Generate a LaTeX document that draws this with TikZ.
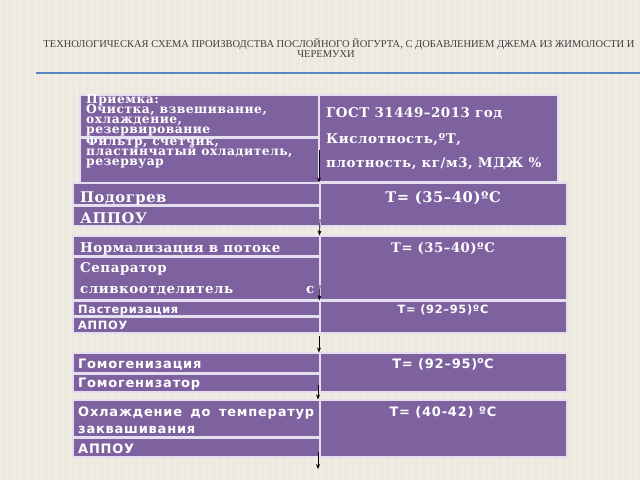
\documentclass[tikz,border=0pt]{standalone}
\usepackage{fontspec}
\usetikzlibrary{fit,arrows.meta}
\newfontfamily\srf{DejaVu Serif}[LetterSpace=4]
\newfontfamily\snf{DejaVu Sans}[LetterSpace=6]
\newfontfamily\ttlf{Liberation Serif}
\definecolor{bgc}{HTML}{ECE9DF}
\definecolor{cellfill}{HTML}{7E62A0}
\definecolor{cellborder}{HTML}{E4DEEE}
\definecolor{titlec}{HTML}{404040}
\definecolor{linec}{HTML}{5A86C4}
\begin{document}
\begin{tikzpicture}[x=1pt,y=-1pt,
  cellbox/.style={draw=cellborder, line width=1.2pt, fill=cellfill, inner sep=0pt},
  lbl/.style={text=white, inner sep=0pt, anchor=base west},
  ctr/.style={text=white, inner sep=0pt, anchor=base},
  sr/.style={font=\srf\bfseries\fontsize{#1}{#1}\selectfont},
  sn/.style={font=\snf\bfseries\fontsize{#1}{#1}\selectfont},
  arr/.style={-{Stealth[length=5pt,width=4pt]}, line width=0.7pt, black},
  stripe/.style={white, opacity=0.22, line width=2.5pt},
  ttl/.style={text=titlec, inner sep=0pt, anchor=base, font=\ttlf\fontsize{10.5}{10.5}\selectfont}]
\useasboundingbox (0,0) rectangle (640,480);
\fill[bgc] (0,0) rectangle (640,480);
\foreach \sx in {0,7,...,640} {\draw[stripe] (\sx,0) -- (\sx,480);}
% title
\node[ttl] (t1) at (339,47) {ТЕХНОЛОГИЧЕСКАЯ СХЕМА ПРОИЗВОДСТВА ПОСЛОЙНОГО ЙОГУРТА, С ДОБАВЛЕНИЕМ ДЖЕМА ИЗ ЖИМОЛОСТИ И};
\node[ttl] (t2) at (326,57) {ЧЕРЕМУХИ};
\draw[linec, line width=2pt] (36,73) -- (640,73);
% cells
\node[cellbox, fit={(80,95) (319,137)}] (b1l1) {};
\node[cellbox, fit={(80,138) (319,183)}] (b1l2) {};
\node[cellbox, fit={(319,95) (558,182)}] (b1r) {};
\node[cellbox, fit={(73,183) (320,205)}] (b2l1) {};
\node[cellbox, fit={(73,206) (320,226)}] (b2l2) {};
\node[cellbox, fit={(320,183) (567,226)}] (b2r) {};
\node[cellbox, fit={(73,236) (320,256)}] (b3l1) {};
\node[cellbox, fit={(73,257) (320,300)}] (b3l2) {};
\node[cellbox, fit={(320,236) (567,300)}] (b3r) {};
\node[cellbox, fit={(73,301) (320,316)}] (b4l1) {};
\node[cellbox, fit={(73,317) (320,333)}] (b4l2) {};
\node[cellbox, fit={(320,301) (567,333)}] (b4r) {};
\node[cellbox, fit={(73,353) (320,373)}] (b5l1) {};
\node[cellbox, fit={(73,374) (320,392)}] (b5l2) {};
\node[cellbox, fit={(320,353) (567,392)}] (b5r) {};
\node[cellbox, fit={(73,400) (320,437)}] (b6l1) {};
\node[cellbox, fit={(73,438) (320,457)}] (b6l2) {};
\node[cellbox, fit={(320,400) (567,457)}] (b6r) {};
% block 1 texts
\node[lbl, sr=12.3] (x11) at (86,103) {Приемка:};
\node[lbl, sr=12.3] (x12) at (86,113) {Очистка, взвешивание,};
\node[lbl, sr=12.3] (x13) at (86,123) {охлаждение,};
\node[lbl, sr=12.3] (x14) at (86,133) {резервирование};
\node[lbl, sr=12.3] (x15) at (86,145) {Фильтр, счетчик,};
\node[lbl, sr=12.3] (x16) at (86,155) {пластинчатый охладитель,};
\node[lbl, sr=12.3] (x17) at (86,165) {резервуар};
\draw[cellborder, line width=1.2pt] (b1l1.south west) -- (b1l1.south east);
\node[lbl, sr=13.4] (x18) at (326,117) {ГОСТ 31449–2013 год};
\node[lbl, sr=13.4] (x19) at (326,143) {Кислотность,ºТ,};
\node[lbl, sr=13.4] (x1a) at (326,167) {плотность, кг/м3, МДЖ \%};
% block 2
\node[lbl, sr=14.7] (x21) at (80,202) {Подогрев};
\node[lbl, sr=14.7] (x22) at (80,223) {АППОУ};
\node[ctr, sr=14.7] (x23) at (443,202) {T= (35–40)ºC};
% block 3
\node[lbl, sr=13.4] (x31) at (80,252) {Нормализация в потоке};
\node[ctr, sr=13.2] (x32) at (443,252) {T= (35–40)ºC};
\node[lbl, sr=13.4] (x33) at (80,272) {Сепаратор};
\node[lbl, sr=13.4] (x34) at (80,293) {\hbox to 234pt{сливкоотделитель\hfill с}};
% block 4
\node[lbl, sn=11.4] (x41) at (78,313) {Пастеризация};
\node[lbl, sn=11.4] (x42) at (78,329) {АППОУ};
\node[ctr, sn=11.4] (x43) at (443,313) {T= (92–95)ºC};
% block 5
\node[lbl, sn=13] (x51) at (78,368) {Гомогенизация};
\node[lbl, sn=13] (x52) at (78,387) {Гомогенизатор};
\node[ctr, sn=13] (x53) at (443,368) {T= (92–95)\textsuperscript{o}C};
% block 6
\node[lbl, sn=13] (x61) at (78,416) {\hbox to 236pt{Охлаждение\hfill до\hfill температур}};
\node[lbl, sn=13] (x62) at (78,433) {заквашивания};
\node[lbl, sn=13] (x63) at (78,453) {АППОУ};
\node[ctr, sn=13] (x64) at (443,416) {T= (40-42) ºC};
% arrows
\coordinate (a1s) at (319,150);
\coordinate (a2s) at (320,219);
\coordinate (a3s) at (320,285);
\coordinate (a4s) at (319,336);
\coordinate (a5s) at (318,385);
\coordinate (a6s) at (318,452);
\coordinate (a6e) at (318,469);
\draw[arr] (a1s) -- (b2r.north west -| a1s);
\draw[arr] (a2s) -- (b3r.north west);
\draw[arr] (a3s) -- (b4r.north west);
\draw[arr] (a4s) -- (b5r.north west -| a4s);
\draw[arr] (a5s) -- (b6r.north west -| a5s);
\draw[arr] (a6s) -- (a6e);
\end{tikzpicture}
\end{document}
